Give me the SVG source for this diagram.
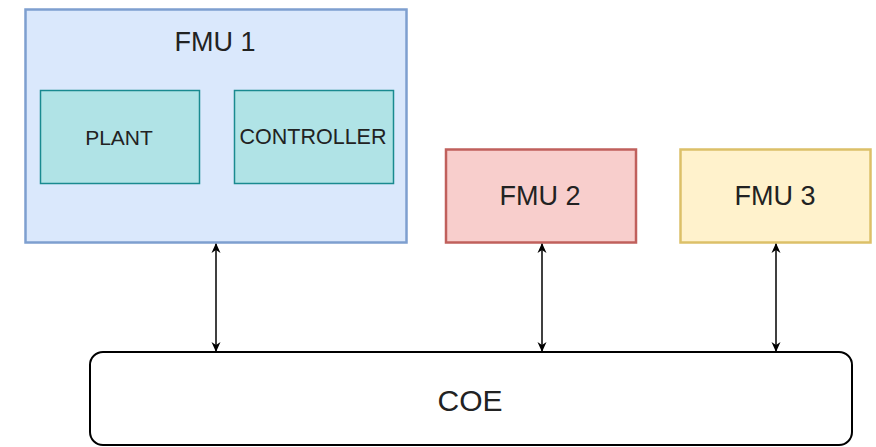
<svg xmlns="http://www.w3.org/2000/svg" width="876" height="447" viewBox="0 0 876 447">
<defs>
<style>
text{font-family:"Liberation Sans",Arial,sans-serif;fill:#222;text-anchor:middle;dominant-baseline:central}
.edge{stroke:#000;stroke-width:1.5;fill:none;marker-start:url(#arr);marker-end:url(#arr)}
</style>
<marker id="arr" viewBox="0 0 10 10" refX="9" refY="5" markerWidth="10" markerHeight="10" orient="auto-start-reverse" markerUnits="userSpaceOnUse">
<path d="M0,0.5 L10,5 L0,9.5 L3,5 Z" fill="#000"/>
</marker>
</defs>
<rect width="876" height="447" fill="#fff"/>
<g id="fmu1">
<rect x="25.5" y="9.5" width="381" height="233" fill="#dae8fc" stroke="#7e9fcf" stroke-width="2.5"/>
<text x="215" y="42" font-size="27">FMU 1</text>
</g>
<g id="plant">
<rect x="40.5" y="90.5" width="159" height="93" fill="#b0e3e6" stroke="#1a8a90" stroke-width="1.5"/>
<text x="119" y="137" font-size="21">PLANT</text>
</g>
<g id="controller">
<rect x="234.5" y="90.5" width="159" height="93" fill="#b0e3e6" stroke="#1a8a90" stroke-width="1.5"/>
<text x="313" y="137" font-size="21.5">CONTROLLER</text>
</g>
<g id="fmu2">
<rect x="446" y="149.5" width="190" height="93" fill="#f8cecc" stroke="#c0605c" stroke-width="2.5"/>
<text x="540" y="196" font-size="27">FMU 2</text>
</g>
<g id="fmu3">
<rect x="680.5" y="149.5" width="190" height="93" fill="#fff2cc" stroke="#dcc068" stroke-width="2.5"/>
<text x="775" y="196" font-size="27">FMU 3</text>
</g>
<g id="coe">
<rect x="90" y="352" width="762" height="93" rx="13" ry="13" fill="#fff" stroke="#000" stroke-width="2"/>
<text x="470" y="400" font-size="30">COE</text>
</g>
<g id="connectors">
<line class="edge" x1="216" y1="244" x2="216" y2="351"/>
<line class="edge" x1="542" y1="244" x2="542" y2="351"/>
<line class="edge" x1="776" y1="244" x2="776" y2="351"/>
</g>
</svg>
